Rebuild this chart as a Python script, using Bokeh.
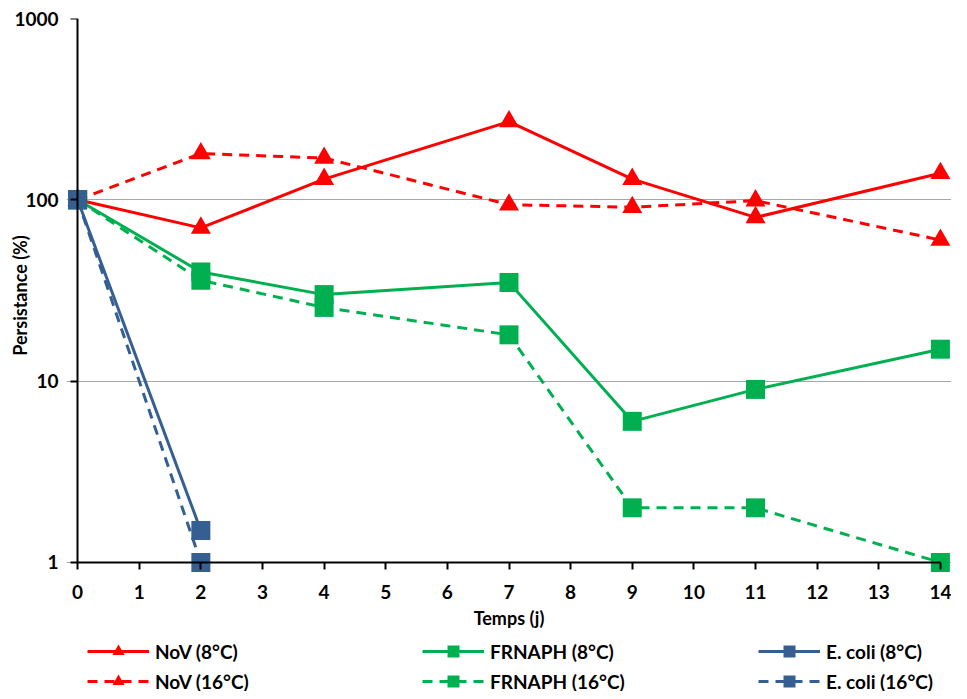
from bokeh.plotting import figure
from bokeh.layouts import column
from bokeh.models import (Range1d, FixedTicker, NumeralTickFormatter, Legend,
                          LegendItem, LinearAxis, LogAxis, CustomLabelingPolicy)
from bokeh.embed import file_html
from bokeh.resources import INLINE

# ---- data ----
days = [0, 2, 4, 7, 9, 11, 14]
nov_8 = [100, 70, 130, 270, 130, 80, 140]
nov_16 = [100, 180, 170, 94, 91, 99, 60]
frnaph_8 = [100, 40, 30, 35, 6, 9, 15]
frnaph_16 = [100, 36, 25.5, 18, 2, 2, 1]
days_ecoli = [0, 2]
ecoli_8 = [100, 1.5]
ecoli_16 = [100, 1]

x_ticks = list(range(0, 15))
y_ticks = [1, 10, 100, 1000]
x_min, x_max = 0, 14
y_min, y_max = 1, 1000

labels = ["NoV (8°C)", "NoV (16°C)", "FRNAPH (8°C)", "FRNAPH (16°C)",
          "E. coli (8°C)", "E. coli (16°C)"]

RED = "#FF0000"
GREEN = "#00B050"
BLUE = "#365F91"
FONT = "Lato"
DASH = "10 7"

styles = [
    (RED, "solid", "triangle", 20),
    (RED, DASH, "triangle", 20),
    (GREEN, "solid", "square", 19),
    (GREEN, DASH, "square", 19),
    (BLUE, "solid", "square", 19),
    (BLUE, DASH, "square", 19),
]
series_x = [days, days, days, days, days_ecoli, days_ecoli]
series_y = [nov_8, nov_16, frnaph_8, frnaph_16, ecoli_8, ecoli_16]

# small padding around the axes so that edge markers are not clipped
x_pad = 0.18
y_low = 0.88

p = figure(width=951, height=644, output_backend="svg", toolbar_location=None,
           y_axis_type="log",
           x_range=Range1d(x_min - x_pad, x_max + x_pad),
           y_range=Range1d(y_low, y_max),
           min_border_left=66, min_border_right=0, min_border_top=18,
           min_border_bottom=72)
p.outline_line_color = None
p.background_fill_color = "white"

for xs, ys, (col, dash, marker, size) in zip(series_x, series_y, styles):
    p.line(xs, ys, line_color=col, line_width=3, line_dash=dash)
    p.scatter(xs, ys, marker=marker, size=size, fill_color=col,
              line_color=col, line_width=0)

# label axes (at the frame edges, no line / ticks)
for ax in (p.xaxis[0], p.yaxis[0]):
    ax.axis_line_color = None
    ax.major_tick_line_color = None
    ax.major_tick_out = 0
    ax.major_tick_in = 0
    ax.minor_tick_line_color = None
    ax.minor_tick_out = 0
    ax.major_label_text_font = FONT
    ax.major_label_text_font_style = "bold"
    ax.major_label_text_font_size = "19px"
    ax.major_label_text_color = "black"
    ax.axis_label_text_font = FONT
    ax.axis_label_text_font_style = "bold"
    ax.axis_label_text_font_size = "18px"
    ax.axis_label_text_color = "black"

p.xaxis.ticker = FixedTicker(ticks=x_ticks)
p.yaxis.ticker = FixedTicker(ticks=y_ticks)
p.yaxis.formatter = NumeralTickFormatter(format="0")
p.xaxis.axis_label = "Temps (j)"
p.yaxis.axis_label = "Persistance (%)"
p.xaxis.major_label_standoff = 12
p.xaxis.axis_label_standoff = 5
p.yaxis.major_label_standoff = 8
p.yaxis.axis_label_standoff = -20

# line + tick axes, drawn through x = 0 and y = 1 (their labels are dropped)
no_labels = CustomLabelingPolicy(
    code="for (const i of Array.from(indices)) { indices.unset(i) }\nreturn indices")
x_line_axis = LinearAxis(ticker=FixedTicker(ticks=x_ticks),
                         fixed_location=y_min, bounds=(x_min, x_max))
y_line_axis = LogAxis(ticker=FixedTicker(ticks=y_ticks),
                      fixed_location=x_min, bounds=(y_min, y_max))
for ax in (x_line_axis, y_line_axis):
    ax.axis_line_color = "black"
    ax.axis_line_width = 2
    ax.major_tick_line_color = "black"
    ax.major_tick_line_width = 2
    ax.major_tick_out = 7
    ax.major_tick_in = 0
    ax.minor_tick_line_color = None
    ax.minor_tick_out = 0
    ax.major_label_text_font_size = "1px"
    ax.major_label_text_alpha = 0
    ax.major_label_standoff = 0
    ax.major_label_policy = no_labels
p.add_layout(x_line_axis, "below")
p.add_layout(y_line_axis, "left")

p.xgrid.visible = False
p.ygrid.grid_line_color = "#A6A6A6"
p.ygrid.grid_line_width = 1
p.ygrid.bounds = (x_min, x_max)

# ---- legend strip (separate figure so the legend is not clipped) ----
q = figure(width=951, height=47, output_backend="svg", toolbar_location=None,
           x_range=Range1d(-2, -1), y_range=Range1d(-2, -1),
           x_axis_location=None, y_axis_location=None,
           min_border_left=0, min_border_right=0, min_border_top=0,
           min_border_bottom=0)
q.outline_line_color = None
q.xgrid.visible = False
q.ygrid.visible = False

items = []
for xs, ys, lab, (col, dash, marker, size) in zip(series_x, series_y,
                                                   labels, styles):
    l = q.line(xs, ys, line_color=col, line_width=3, line_dash=dash)
    s = q.scatter(xs, ys, marker=marker, size=size, fill_color=col,
                  line_color=col, line_width=0)
    items.append(LegendItem(label=lab, renderers=[l, s]))

legend_x = [21, 356, 692]
for i, lx in enumerate(legend_x):
    lg = Legend(items=items[2 * i:2 * i + 2], location=(lx, -5),
                orientation="vertical",
                glyph_width=62, glyph_height=30, label_height=30,
                label_standoff=6, spacing=-6, padding=0, margin=0,
                border_line_color=None, background_fill_alpha=0,
                label_text_font=FONT, label_text_font_style="bold",
                label_text_font_size="19px", label_text_color="black")
    q.add_layout(lg, "center")

layout = column(p, q, spacing=0)
open("out.html", "w").write(file_html(layout, INLINE))
